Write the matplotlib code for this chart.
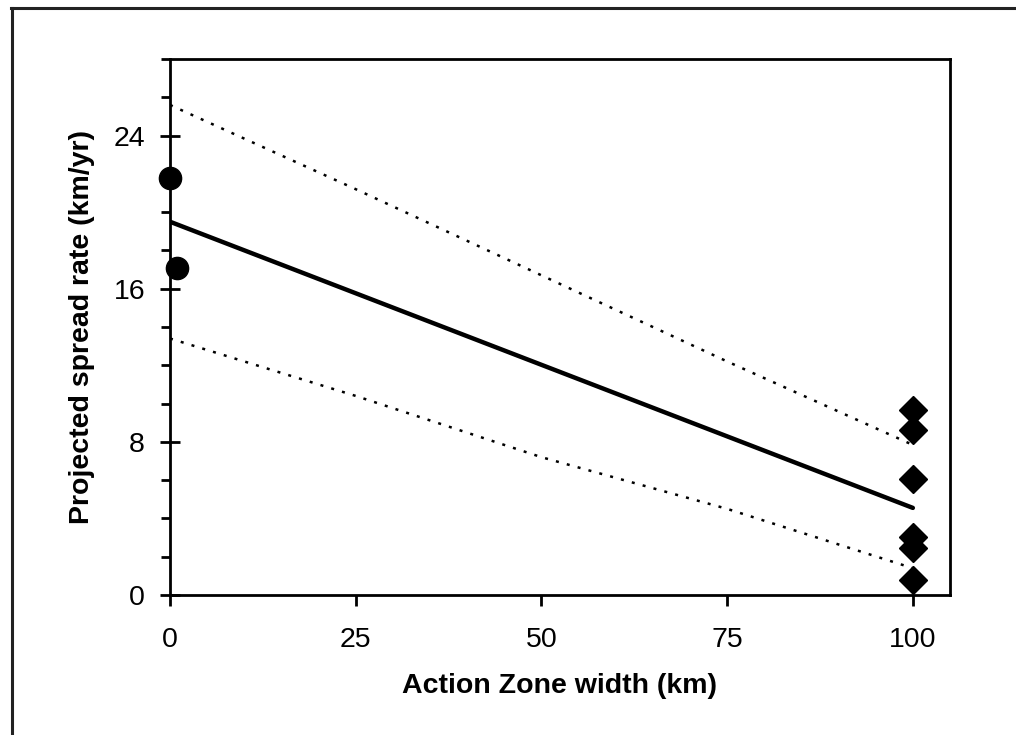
import matplotlib
matplotlib.use("Agg")
import matplotlib.pyplot as plt
from matplotlib.lines import Line2D
from matplotlib.ticker import MultipleLocator

plt.rcParams['font.family'] = ['Liberation Sans', 'DejaVu Sans']

# Data
circle_x = [0, 1]
circle_y = [21.8, 17.1]
diamond_x = [100, 100, 100, 100, 100, 100]
diamond_y = [9.67, 8.63, 6.07, 3.03, 2.46, 0.78]
fit_x = [0, 100]
fit_y = [19.5, 4.55]
ci_x = [0, 25, 50, 75, 100]
ci_upper = [25.6, 21.2, 16.7, 12.2, 7.84]
ci_lower = [13.4, 10.4, 7.2, 4.5, 1.4]
x_ticks = [0, 25, 50, 75, 100]
y_ticks = [0, 8, 16, 24]

fig = plt.figure(figsize=(10.16, 7.35), dpi=100)
ax = fig.add_axes([170/1016, 1-595/735, (950-170)/1016, (595-59)/735])

ax.plot(ci_x, ci_upper, color='black', lw=1.8, linestyle=(0, (1.2, 3.3)))
ax.plot(ci_x, ci_lower, color='black', lw=1.8, linestyle=(0, (1.2, 3.3)))
ax.plot(fit_x, fit_y, color='black', lw=3.2, solid_capstyle='round')
ax.plot(circle_x, circle_y, 'o', color='black', markersize=16, clip_on=False, zorder=5)
ax.plot(diamond_x, diamond_y, 'D', color='black', markersize=14, clip_on=False, zorder=5)

ax.set_xlim(0, 105)
ax.set_ylim(0, 28)
ax.set_xticks(x_ticks)
ax.set_yticks(y_ticks)
ax.yaxis.set_minor_locator(MultipleLocator(2))

for s in ax.spines.values():
    s.set_linewidth(2.0)
ax.tick_params(axis='x', which='major', direction='out', length=8, width=2, labelsize=20.5, pad=15)
ax.tick_params(axis='y', which='major', direction='inout', length=14, width=2, labelsize=20.5, pad=11)
ax.tick_params(axis='y', which='minor', direction='out', length=6.5, width=2)

ax.set_xlabel('Action Zone width (km)', fontsize=20.5, fontweight='bold', labelpad=14.5)
ax.set_ylabel('Projected spread rate (km/yr)', fontsize=20.5, fontweight='bold', labelpad=13.5)

# outer frame (left & top only)
fig.add_artist(Line2D([12/1016, 12/1016], [0, 1-8/735], transform=fig.transFigure, color='#222222', lw=2.2))
fig.add_artist(Line2D([11/1016, 1], [1-8/735, 1-8/735], transform=fig.transFigure, color='#222222', lw=2.2))

fig.savefig('out.png', dpi=100)
